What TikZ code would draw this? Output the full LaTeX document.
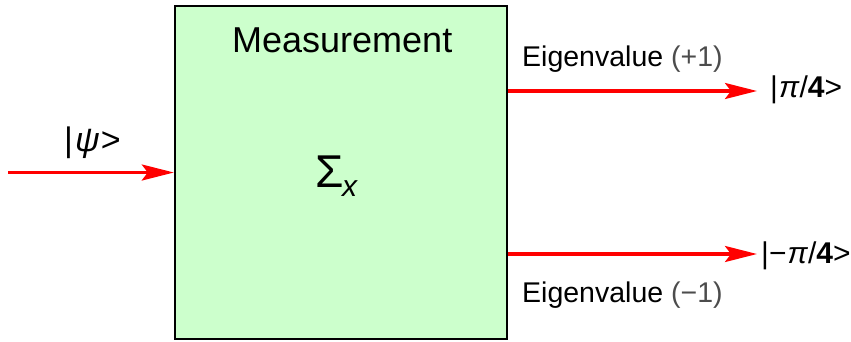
\documentclass[tikz,border=0pt]{standalone}
\usepackage{fontspec}
\setmainfont{Liberation Sans}
\usetikzlibrary{arrows.meta}
\tikzset{
  arr/.style={draw=red, line width=3.2pt, -{Stealth[length=32pt,width=16pt,inset=6pt]}},
  lbl/.style={inner sep=0pt, anchor=base west, font=\fontsize{28.5}{32}\selectfont, text=black},
  ket/.style={inner sep=0pt, anchor=base west, font=\fontsize{30}{34}\selectfont},
  mbox/.style={draw=black, line width=2.4pt, fill={rgb,255:red,204;green,255;blue,204}, inner sep=0pt, minimum width=332pt, minimum height=333pt}
}
\begin{document}
\begin{tikzpicture}[x=1pt,y=-1pt]
\useasboundingbox (0,0) rectangle (851,341);
\node[mbox] (box) at (341,172.5) {};
\node[inner sep=0pt, anchor=base west, font=\fontsize{36}{40}\selectfont] (title) at (232,52) {Measurement};
\node[inner sep=0pt, anchor=base west, font=\fontsize{46}{50}\selectfont] (sig) at (315,187) {Σ};
\node[inner sep=0pt, anchor=base west, font=\fontsize{30}{34}\selectfont] (sub) at (342,196) {\textit{x}};
\coordinate (in) at (8,172.5);
\draw[arr] (in) -- (box.west);
\node[ket, font=\fontsize{34}{38}\selectfont] (psi) at (64,151) {|\kern2pt\textit{ψ}\kern1pt>};
\coordinate (s1) at (box.east |- 0,91);
\coordinate (e1) at (757,91);
\draw[arr] (s1) -- (e1);
\coordinate (s2) at (box.east |- 0,254);
\coordinate (e2) at (757,254);
\draw[arr] (s2) -- (e2);
\node[lbl] (ev1) at (522,66) {Eigenvalue {\color{black!70}(+1)}};
\node[lbl] (ev2) at (522,302) {Eigenvalue {\color{black!70}(−1)}};
\node[ket] (k1) at (770,97) {|\kern1pt\textit{π}/\textbf{4}>};
\node[ket] (k2) at (761,263) {|−\kern1pt\textit{π}/\textbf{4}>};
\end{tikzpicture}
\end{document}
